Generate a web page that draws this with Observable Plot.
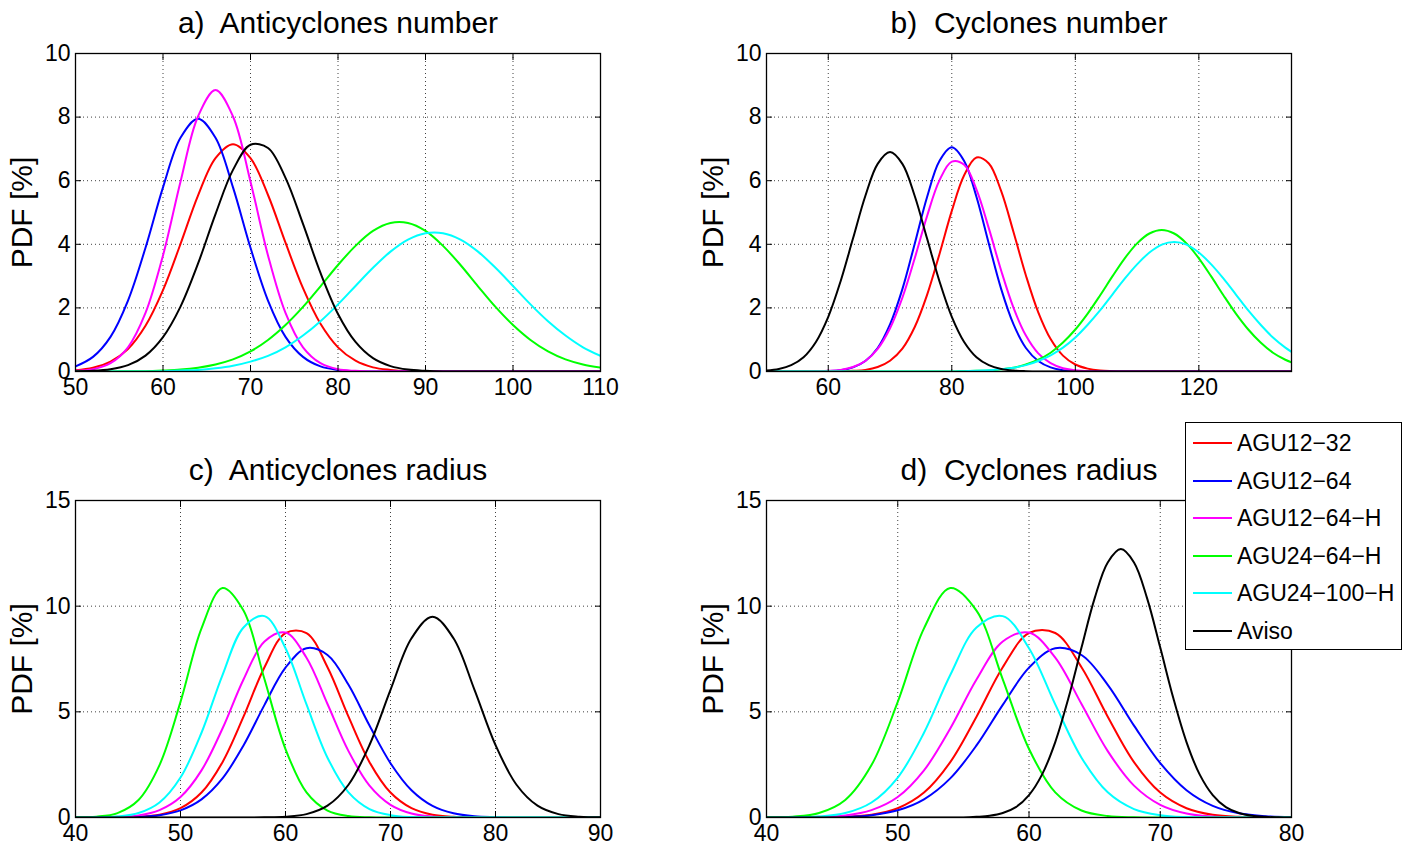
<!DOCTYPE html>
<html><head><meta charset="utf-8">
<script src="https://cdn.jsdelivr.net/npm/d3@7"></script>
<script src="https://cdn.jsdelivr.net/npm/@observablehq/plot@0.6"></script>
<style>
html,body{margin:0;padding:0;background:#fff;}
#wrap{position:relative;width:1418px;height:852px;overflow:hidden;font-family:"Liberation Sans",Arial,Helvetica,sans-serif;background:#fff;}
#wrap svg{position:absolute;background:transparent !important;max-width:none !important;}
#legend{position:absolute;left:1185px;top:422px;width:217px;height:228px;border:1.3px solid #000;background:#fff;box-sizing:border-box;}
#legend .sw{position:absolute;left:7px;width:39px;height:2px;}
#legend .lb{position:absolute;left:51px;font-size:23px;line-height:26px;white-space:nowrap;color:#000;}
</style></head><body><div id="wrap"></div>
<script>
// ---- series ----
const seriesNames  = ["AGU12\u221232","AGU12\u221264","AGU12\u221264\u2212H","AGU24\u221264\u2212H","AGU24\u2212100\u2212H","Aviso"];
const seriesColors = ["#ff0000","#0000ff","#ff00ff","#00ff00","#00ffff","#000000"];

// ---- panel a: Anticyclones number ----
const xA = [50,52,54,56,58,60,62,64,66,68,70,72,74,76,78,80,82,84,86,88,90,92,94,96,98,100,102,104,106,108,110];
const aRed   = [0.04,0.12,0.31,0.71,1.44,2.56,4.01,5.53,6.71,7.15,6.71,5.55,4.05,2.62,1.5,0.76,0.34,0.13,0.05,0.01,0,0,0,0,0,0,0,0,0,0,0];
const aBlue  = [0.16,0.46,1.09,2.23,3.89,5.79,7.35,7.95,7.35,5.79,3.89,2.23,1.09,0.46,0.16,0.05,0.01,0,0,0,0,0,0,0,0,0,0,0,0,0,0];
const aMag   = [0.02,0.07,0.26,0.76,1.84,3.65,5.97,8.02,8.85,8.02,5.97,3.65,1.84,0.76,0.26,0.07,0.02,0,0,0,0,0,0,0,0,0,0,0,0,0,0];
const aGreen = [0,0,0,0.01,0.01,0.03,0.06,0.12,0.22,0.38,0.63,0.99,1.46,2.03,2.68,3.35,3.95,4.42,4.67,4.67,4.42,3.95,3.35,2.68,2.03,1.46,0.99,0.63,0.38,0.22,0.12];
const aCyan  = [0,0,0,0,0,0.01,0.03,0.05,0.10,0.18,0.31,0.49,0.76,1.13,1.58,2.11,2.69,3.26,3.77,4.15,4.35,4.35,4.15,3.77,3.26,2.69,2.11,1.58,1.13,0.76,0.49];
const aBlack = [0.01,0.02,0.07,0.20,0.50,1.08,2.04,3.39,4.95,6.34,7.13,7.03,6.09,4.64,3.10,1.81,0.93,0.42,0.17,0.06,0.02,0,0,0,0,0,0,0,0,0,0];

// ---- panel b: Cyclones number ----
const xB = [50,52,54,56,58,60,62,64,66,68,70,72,74,76,78,80,82,84,86,88,90,92,94,96,98,100,102,104,106,108,110,112,114,116,118,120,122,124,126,128,130,132,134,135];
const bRed   = [0,0,0,0,0,0,0,0.02,0.05,0.14,0.34,0.72,1.40,2.41,3.69,5.05,6.17,6.73,6.54,5.67,4.38,3.02,1.86,1.02,0.50,0.22,0.09,0.03,0.01,0,0,0,0,0,0,0,0,0,0,0,0,0,0,0];
const bBlue  = [0,0,0,0,0,0.01,0.04,0.13,0.33,0.74,1.48,2.59,4.02,5.49,6.62,7.05,6.62,5.49,4.02,2.59,1.48,0.74,0.33,0.13,0.04,0.01,0,0,0,0,0,0,0,0,0,0,0,0,0,0,0,0,0,0];
const bMag   = [0,0,0,0,0.01,0.02,0.05,0.14,0.33,0.71,1.36,2.32,3.56,4.89,6.01,6.60,6.50,5.72,4.50,3.17,2.00,1.13,0.57,0.26,0.10,0.04,0.01,0,0,0,0,0,0,0,0,0,0,0,0,0,0,0,0,0];
const bGreen = [0,0,0,0,0,0,0,0,0,0,0,0,0,0,0,0,0.01,0.02,0.03,0.07,0.12,0.22,0.37,0.59,0.91,1.32,1.82,2.39,2.99,3.56,4.03,4.34,4.45,4.34,4.03,3.56,2.99,2.39,1.82,1.32,0.91,0.59,0.37,0.29];
const bCyan  = [0,0,0,0,0,0,0,0,0,0,0,0,0,0,0,0,0.01,0.02,0.04,0.07,0.12,0.20,0.33,0.51,0.75,1.07,1.47,1.92,2.42,2.92,3.37,3.74,3.99,4.07,3.99,3.74,3.37,2.92,2.42,1.92,1.47,1.07,0.75,0.62];
const bBlack = [0.03,0.08,0.20,0.45,0.93,1.72,2.84,4.18,5.52,6.53,6.90,6.53,5.52,4.18,2.84,1.72,0.93,0.45,0.20,0.08,0.03,0.01,0,0,0,0,0,0,0,0,0,0,0,0,0,0,0,0,0,0,0,0,0,0];

// ---- panel c: Anticyclones radius ----
const xC = [40,42,44,46,48,50,52,54,56,58,60,62,64,66,68,70,72,74,76,78,80,82,84,86,88,90];
const cRed   = [0,0,0.01,0.03,0.13,0.44,1.18,2.62,4.77,7.11,8.73,8.73,7.11,4.77,2.62,1.18,0.44,0.13,0.03,0.01,0,0,0,0,0,0];
const cBlue  = [0,0,0.01,0.03,0.11,0.34,0.86,1.85,3.41,5.33,7.09,8.01,7.69,6.28,4.35,2.57,1.29,0.55,0.20,0.06,0.02,0,0,0,0,0];
const cMag   = [0,0.01,0.03,0.10,0.35,0.97,2.23,4.21,6.53,8.33,8.75,7.56,5.37,3.14,1.51,0.60,0.19,0.05,0.01,0,0,0,0,0,0,0];
const cGreen = [0.01,0.04,0.21,0.83,2.48,5.47,8.95,10.86,9.79,6.54,3.24,1.19,0.33,0.07,0.01,0,0,0,0,0,0,0,0,0,0,0];
const cCyan  = [0,0.01,0.05,0.21,0.71,1.89,4.01,6.74,8.99,9.53,8.01,5.35,2.83,1.19,0.40,0.11,0.02,0,0,0,0,0,0,0,0,0];
const cBlack = [0,0,0,0,0,0,0,0,0,0.01,0.04,0.16,0.56,1.55,3.43,6.04,8.48,9.50,8.48,6.04,3.43,1.55,0.56,0.16,0.04,0.01];

// ---- panel d: Cyclones radius ----
const xD = [40,42,44,46,48,50,52,54,56,58,60,62,64,66,68,70,72,74,76,78,80];
const dRed   = [0,0,0.01,0.03,0.13,0.44,1.18,2.62,4.77,7.11,8.73,8.73,7.11,4.77,2.62,1.18,0.44,0.13,0.03,0.01,0];
const dBlue  = [0,0,0.01,0.03,0.11,0.34,0.86,1.85,3.41,5.33,7.09,8.01,7.69,6.28,4.35,2.57,1.29,0.55,0.20,0.06,0.02];
const dMag   = [0,0.01,0.03,0.10,0.35,0.97,2.23,4.21,6.53,8.33,8.75,7.56,5.37,3.14,1.51,0.60,0.19,0.05,0.01,0,0];
const dGreen = [0.01,0.04,0.21,0.83,2.48,5.47,8.95,10.86,9.79,6.54,3.24,1.19,0.33,0.07,0.01,0,0,0,0,0,0];
const dCyan  = [0,0.01,0.05,0.21,0.71,1.89,4.01,6.74,8.99,9.53,8.01,5.35,2.83,1.19,0.40,0.11,0.02,0,0,0,0];
const xDk = [40,41,42,43,44,45,46,47,48,49,50,51,52,53,54,55,56,57,58,59,60,61,62,63,64,65,66,67,68,69,70,71,72,73,74,75,76,77,78,79,80];
const dBlack = [0,0,0,0,0,0,0,0,0,0,0,0,0,0,0,0,0.03,0.08,0.21,0.49,1.06,2.04,3.57,5.64,8.04,10.37,12.07,12.70,12.07,10.37,8.04,5.64,3.57,2.04,1.06,0.49,0.21,0.08,0.03,0.01,0];

const xTicksA = [50,60,70,80,90,100,110];
const xTicksB = [60,80,100,120];
const xTicksC = [40,50,60,70,80,90];
const xTicksD = [40,50,60,70,80];
const yTicksN = [0,2,4,6,8,10];
const yTicksR = [0,5,10,15];

const titles = ["a)\u00a0 Anticyclones number","b)\u00a0 Cyclones number","c)\u00a0 Anticyclones radius","d)\u00a0 Cyclones radius"];
const yLabel = "PDF [%]";

function panel(cfg) {
  const gridStyle = {stroke: "#000", strokeOpacity: 0.75, strokeWidth: 1, strokeDasharray: "1,3"};
  const lines = cfg.series.map((s, i) =>
    Plot.line(s.ys, {x: s.xs, y: s.ys, stroke: seriesColors[i], strokeWidth: 2, curve: "catmull-rom", clip: true}));
  const noText = () => "";
  const svg = Plot.plot({
    width: cfg.width, height: cfg.height,
    marginLeft: 75, marginRight: cfg.width - 600, marginTop: 53, marginBottom: cfg.marginBottom,
    x: {domain: cfg.xDomain},
    y: {domain: cfg.yDomain},
    style: {fontFamily: '"Liberation Sans", Arial, Helvetica, sans-serif', fontSize: "23px", background: "transparent", overflow: "visible", color: "#000"},
    marks: [
      Plot.gridX(cfg.xTicks, gridStyle),
      Plot.gridY(cfg.yTicks, gridStyle),
      ...lines,
      Plot.frame({stroke: "#000", strokeWidth: 1.3}),
      Plot.axisX(cfg.xTicks, {anchor: "bottom", tickSize: 0, tickPadding: 7, label: null}),
      Plot.axisY(cfg.yTicks, {anchor: "left", tickSize: 0, tickPadding: 5, label: null}),
      Plot.axisX(cfg.xTicks, {anchor: "bottom", tickSize: -6, tickFormat: noText, label: null}),
      Plot.axisX(cfg.xTicks, {anchor: "top", tickSize: -6, tickFormat: noText, label: null}),
      Plot.axisY(cfg.yTicks, {anchor: "left", tickSize: -6, tickFormat: noText, label: null}),
      Plot.axisY(cfg.yTicks, {anchor: "right", tickSize: -6, tickFormat: noText, label: null}),
      Plot.text([cfg.title], {text: d => d, frameAnchor: "top", dy: -21, lineAnchor: "bottom", fontSize: 30}),
      Plot.text([yLabel], {text: d => d, frameAnchor: "left", dx: -53, rotate: -90, lineAnchor: "middle", textAnchor: "middle", fontSize: 30})
    ]
  });
  svg.style.left = cfg.left + "px";
  svg.style.top = cfg.top + "px";
  return svg;
}

const wrap = document.getElementById("wrap");
const S = (xs, ys) => ({xs, ys});
wrap.appendChild(panel({left: 0, top: 0, width: 709, height: 426, marginBottom: 55,
  xDomain: [50, 110], yDomain: [0, 10], xTicks: xTicksA, yTicks: yTicksN, title: titles[0],
  series: [S(xA,aRed), S(xA,aBlue), S(xA,aMag), S(xA,aGreen), S(xA,aCyan), S(xA,aBlack)]}));
wrap.appendChild(panel({left: 691, top: 0, width: 709, height: 426, marginBottom: 55,
  xDomain: [50, 135], yDomain: [0, 10], xTicks: xTicksB, yTicks: yTicksN, title: titles[1],
  series: [S(xB,bRed), S(xB,bBlue), S(xB,bMag), S(xB,bGreen), S(xB,bCyan), S(xB,bBlack)]}));
wrap.appendChild(panel({left: 0, top: 447, width: 709, height: 405, marginBottom: 35,
  xDomain: [40, 90], yDomain: [0, 15], xTicks: xTicksC, yTicks: yTicksR, title: titles[2],
  series: [S(xC,cRed), S(xC,cBlue), S(xC,cMag), S(xC,cGreen), S(xC,cCyan), S(xC,cBlack)]}));
wrap.appendChild(panel({left: 691, top: 447, width: 709, height: 405, marginBottom: 35,
  xDomain: [40, 80], yDomain: [0, 15], xTicks: xTicksD, yTicks: yTicksR, title: titles[3],
  series: [S(xD,dRed), S(xD,dBlue), S(xD,dMag), S(xD,dGreen), S(xD,dCyan), S(xDk,dBlack)]}));

// legend
const legend = document.createElement("div");
legend.id = "legend";
seriesNames.forEach((name, i) => {
  const cy = 20 + i * 37.6;
  const sw = document.createElement("div");
  sw.className = "sw"; sw.style.top = (cy - 1) + "px"; sw.style.background = seriesColors[i];
  const lb = document.createElement("div");
  lb.className = "lb"; lb.style.top = (cy - 13) + "px"; lb.textContent = name;
  legend.appendChild(sw); legend.appendChild(lb);
});
wrap.appendChild(legend);
</script>
</body></html>
